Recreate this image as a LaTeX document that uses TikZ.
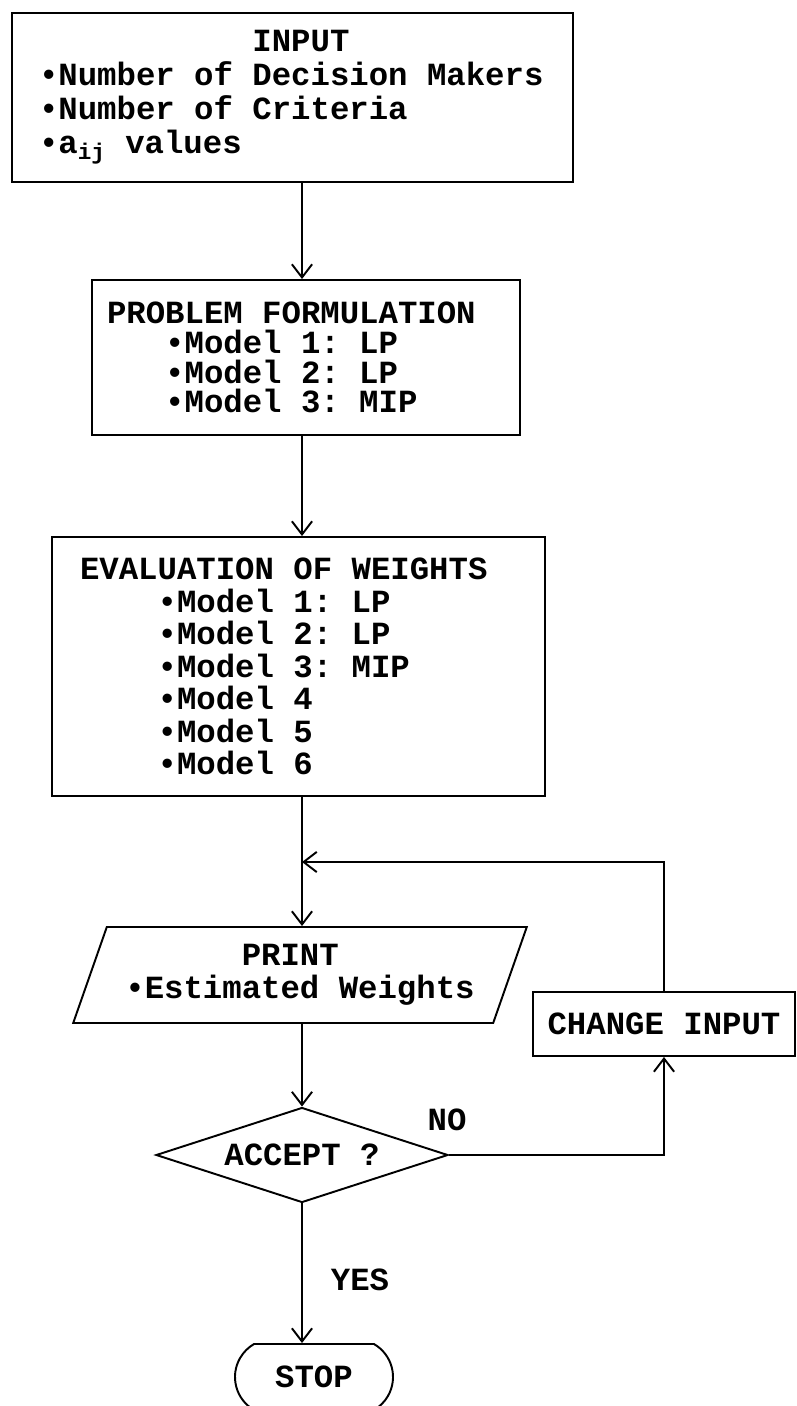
\documentclass[tikz,border=0pt]{standalone}
\usepackage{fontspec}
\newfontfamily\flowtt{Liberation Mono}
\usetikzlibrary{arrows.meta, shapes.geometric, shapes.misc}
\tikzset{
  flow/.style={-{Straight Barb[length=7.5pt, width=11.5pt]}, line width=1.1pt},
  box/.style={draw, line width=1.1pt, inner ysep=0pt, align=flush left,
              font=\flowtt\bfseries\frenchspacing\fontsize{18.4}{#1}\selectfont},
  box/.default=18.5pt,
  iobox/.style={box, trapezium, trapezium left angle=63.4,
                trapezium right angle=116.6, trapezium stretches=true},
  testbox/.style={box, diamond, aspect=3.07, inner sep=0pt},
  endbox/.style={box, rounded rectangle, rounded rectangle arc length=120},
  tag/.style={inner sep=0pt, font=\flowtt\bfseries\fontsize{18.4}{18.5}\selectfont},
}

\begin{document}
\begin{tikzpicture}
  \useasboundingbox (0,0) rectangle (15.92,-28.12);

  \node[box=19.3pt, text width=10.14cm, inner xsep=0.54cm, minimum height=3.38cm] (input) at (5.85,-1.95)
    {\hspace*{6.6em}INPUT\\
     •Number of Decision Makers\\
     •Number of Criteria\\
     •a\textsubscript{ij} values};
  \node[box=17pt, text width=7.96cm, inner xsep=0.3cm, minimum height=3.10cm] (problem) at (6.12,-7.15)
    {PROBLEM FORMULATION\\
     \hspace*{1.8em}•Model 1: LP\\
     \hspace*{1.8em}•Model 2: LP\\
     \hspace*{1.8em}•Model 3: MIP};
  \node[box=18.5pt, text width=8.74cm, inner xsep=0.56cm, minimum height=5.18cm] (eval) at (5.97,-13.33)
    {EVALUATION OF WEIGHTS\\
     \hspace*{2.4em}•Model 1: LP\\
     \hspace*{2.4em}•Model 2: LP\\
     \hspace*{2.4em}•Model 3: MIP\\
     \hspace*{2.4em}•Model 4\\
     \hspace*{2.4em}•Model 5\\
     \hspace*{2.4em}•Model 6};
  \node[iobox=17pt, inner sep=0pt, minimum width=9.1cm, minimum height=1.92cm] (print) at (6.0,-19.5)
    {\hspace*{3.6em}PRINT\\ •Estimated Weights};
  \node[box, inner xsep=0pt, minimum width=5.24cm, minimum height=1.28cm] (change) at (13.28,-20.48)
    {CHANGE INPUT};
  \node[testbox, minimum width=5.84cm, minimum height=1.9cm] (accept) at (6.04,-23.1)
    {ACCEPT ?};
  \node[endbox, inner sep=0pt, minimum width=3.16cm, minimum height=1.32cm] (stop) at (6.28,-27.54)
    {STOP};
  \node[tag] (no) at (8.94,-22.4) {NO};
  \node[tag] (yes) at (7.2,-25.6) {YES};

  \coordinate (join) at (6.04,-17.24);

  \draw[flow] (input.south -| join) -- (problem.north -| join);
  \draw[flow] (problem.south -| join) -- (eval.north -| join);
  \draw[flow] (eval.south -| join) -- (print.north -| join);
  \draw[flow] (print.south -| accept) -- (accept.north);
  \draw[flow] (accept.east) -| (change.south);
  \draw[flow] (change.north) |- (join);
  \draw[flow] (accept.south) -- (stop.north -| accept);
\end{tikzpicture}
\end{document}
